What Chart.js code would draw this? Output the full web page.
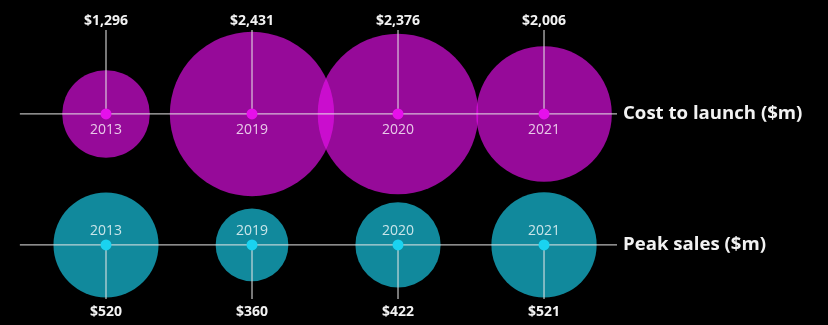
<!DOCTYPE html>
<html>
<head>
<meta charset="utf-8">
<script src="https://cdn.jsdelivr.net/npm/chart.js@4/dist/chart.umd.min.js"></script>
<style>
  html, body { margin: 0; padding: 0; background: #000; }
  canvas { display: block; }
</style>
</head>
<body>
<canvas id="launchChart" width="828" height="325"></canvas>
<script>
// Launch years shown along each row
const years = ['2013', '2019', '2020', '2021'];

// Values in $m
const costToLaunch = [1296, 2431, 2376, 2006];
const peakSales = [520, 360, 422, 521];

const seriesNames = ['Cost to launch ($m)', 'Peak sales ($m)'];

// Row position on the y axis for each series (cost on top, sales below)
const rowLevels = [1, 0];

const purple = 'rgb(230, 16, 235)';
const cyan = 'rgb(26, 211, 240)';

// Pixels of radius per $m, one factor per row
const radiusScale = [0.0338, 0.101];

function toBubbles(values, level, k) {
    return values.map((v, i) => ({ x: i, y: level, r: v * k, value: v }));
}

function money(v) {
    return '$' + v.toLocaleString('en-US');
}

// Draws the row lines, leaders, centre dots and all text on top of the bubbles
const overlayPlugin = {
    id: 'overlay',
    afterDatasetsDraw(chart) {
        const ctx = chart.ctx;
        const xs = chart.scales.x;
        const colours = [purple, cyan];

        ctx.save();
        [0, 1].forEach(d => {
            const meta = chart.getDatasetMeta(d);
            const rowY = meta.data[0].y;
            const lineStart = xs.getPixelForValue(-0.59);
            const lineEnd = xs.getPixelForValue(3.5);

            ctx.strokeStyle = 'rgba(230, 230, 230, 0.8)';
            ctx.lineWidth = 1.3;
            ctx.beginPath();
            ctx.moveTo(lineStart, rowY);
            ctx.lineTo(lineEnd, rowY);
            ctx.stroke();

            ctx.fillStyle = '#f2f2f2';
            ctx.font = 'bold 18.6px "Open Sans"';
            ctx.textAlign = 'left';
            ctx.textBaseline = 'middle';
            ctx.fillText(seriesNames[d], lineEnd + 6, rowY);

            meta.data.forEach((el, i) => {
                const raw = chart.data.datasets[d].data[i];

                // leader line to the value label
                ctx.strokeStyle = 'rgba(230, 230, 230, 0.8)';
                ctx.lineWidth = 1.3;
                ctx.beginPath();
                ctx.moveTo(el.x, el.y);
                ctx.lineTo(el.x, d === 0 ? 30 : 299);
                ctx.stroke();

                // centre dot
                ctx.fillStyle = colours[d];
                ctx.beginPath();
                ctx.arc(el.x, el.y, 5.5, 0, Math.PI * 2);
                ctx.fill();

                // year inside the bubble
                ctx.fillStyle = 'rgba(255, 255, 255, 0.78)';
                ctx.font = '14px "Open Sans"';
                ctx.textAlign = 'center';
                ctx.textBaseline = 'middle';
                ctx.fillText(years[i], el.x, d === 0 ? el.y + 16 : el.y - 14);

                // value label
                ctx.fillStyle = '#f2f2f2';
                ctx.font = 'bold 14px "Open Sans"';
                ctx.fillText(money(raw.value), el.x, d === 0 ? 21 : 312);
            });
        });
        ctx.restore();
    }
};

new Chart(document.getElementById('launchChart').getContext('2d'), {
    type: 'bubble',
    data: {
        datasets: [
            {
                label: seriesNames[0],
                data: toBubbles(costToLaunch, rowLevels[0], radiusScale[0]),
                backgroundColor: 'rgba(230, 16, 235, 0.65)',
                borderWidth: 0,
                hoverRadius: 0
            },
            {
                label: seriesNames[1],
                data: toBubbles(peakSales, rowLevels[1], radiusScale[1]),
                backgroundColor: 'rgba(26, 211, 240, 0.65)',
                borderWidth: 0,
                hoverRadius: 0
            }
        ]
    },
    options: {
        responsive: false,
        animation: false,
        devicePixelRatio: 1,
        layout: { padding: 0, autoPadding: false },
        scales: {
            x: { type: 'linear', display: false, min: -0.726, max: 4.945 },
            y: { type: 'linear', display: false, min: -0.611, max: 1.870 }
        },
        plugins: {
            legend: { display: false },
            tooltip: { enabled: false }
        },
        events: []
    },
    plugins: [overlayPlugin]
});
</script>
</body>
</html>
